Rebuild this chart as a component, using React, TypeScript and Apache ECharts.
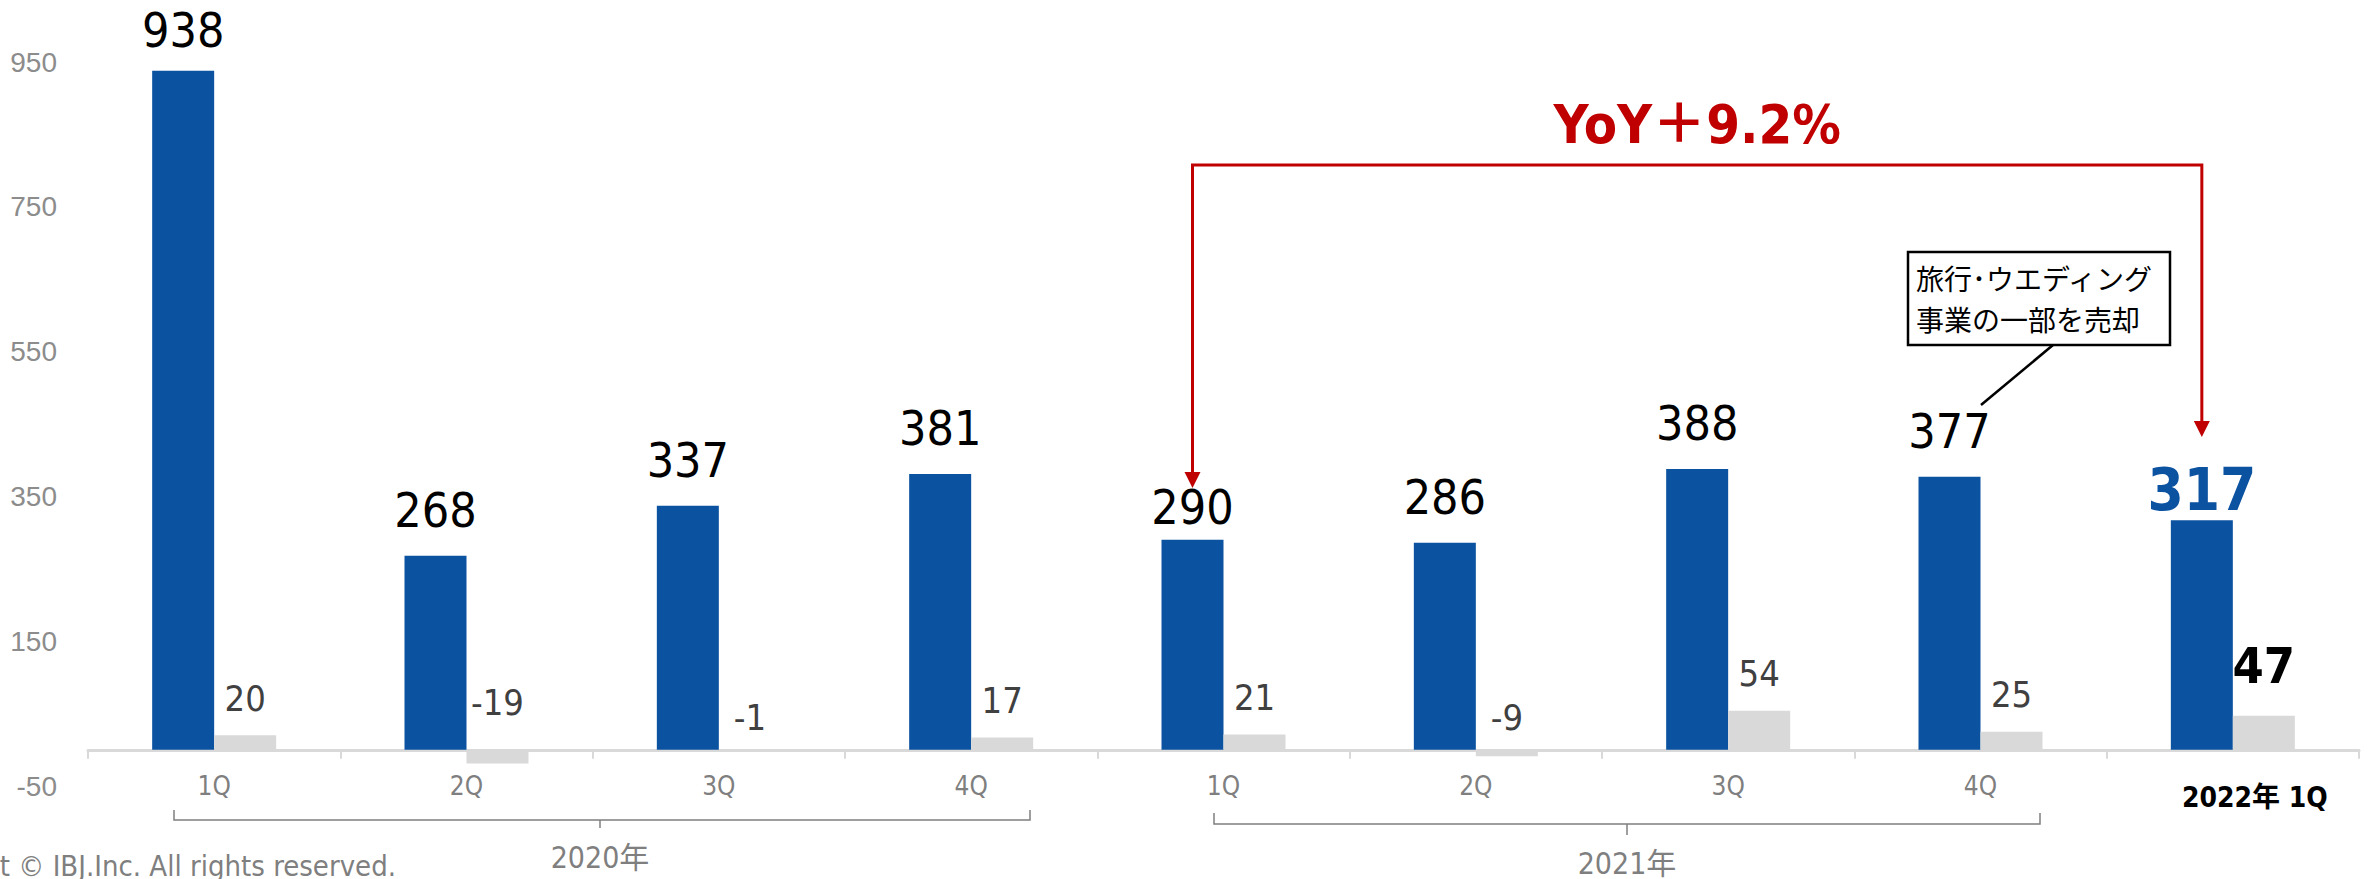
import React, { useEffect, useRef } from 'react';
import * as echarts from 'echarts';

// ---------- data ----------
const categories = ['1Q', '2Q', '3Q', '4Q', '1Q', '2Q', '3Q', '4Q', '2022年 1Q'];
const salesValues = [938, 268, 337, 381, 290, 286, 388, 377, 317];
const profitValues = [20, -19, -1, 17, 21, -9, 54, 25, 47];
const yMin = -50;
const yMax = 950;
const yInterval = 200;
const yearLabels = ['2020年', '2021年'];
const yoyText = 'YoY＋9.2%';
const noteLines = ['旅行･ウエディング', '事業の一部を売却'];
const copyrightText = 'Copyright © IBJ.Inc. All rights reserved.';
const highlightIndex = 8; // 2022年 1Q
const yoyBaseIndex = 4; // 2021 1Q

// ---------- styles ----------
const BLUE = '#0b52a0';
const GREY_BAR = '#d9d9d9';
const RED = '#c00000';
const AXIS_GREY = '#7f7f7f';
const NARROW = "'Liberation Sans Narrow', 'DejaVu Sans Condensed', 'Noto Sans CJK JP', sans-serif";
const CJK = "'Noto Sans CJK JP', sans-serif";
const BAR_W = 62;

export default function App() {
  const ref = useRef<HTMLDivElement>(null);

  useEffect(() => {
    const chart = echarts.init(ref.current!, null, { renderer: 'svg' });

    const salesData = salesValues.map((v, i) => {
      const item: any = { value: v };
      if (i === highlightIndex) {
        item.label = { color: BLUE, fontWeight: 'bold', fontSize: 58, lineHeight: 52, distance: 4 };
      } else if (i === yoyBaseIndex) {
        item.label = { distance: 12 };
      } else if (v === Math.max(...salesValues)) {
        item.label = { distance: 20 };
      }
      return item;
    });

    const profitData = profitValues.map((v, i) => {
      const item: any = { value: v };
      if (i === highlightIndex) {
        item.label = { color: '#000', fontWeight: 'bold', fontSize: 50, lineHeight: 44, distance: 28 };
      } else if (v < 0) {
        item.label = { distance: v < -10 ? 30 : 15 };
      }
      return item;
    });

    chart.setOption({
      animation: false,
      grid: { left: 88, right: 12, top: 62, bottom: 93, containLabel: false },
      xAxis: {
        type: 'category',
        data: categories,
        axisLine: { onZero: true, lineStyle: { color: GREY_BAR, width: 3 } },
        axisTick: { show: true, interval: 0, length: 9, lineStyle: { color: GREY_BAR, width: 2 } },
        axisLabel: {
          interval: 0,
          margin: -13,
          fontSize: 26,
          lineHeight: 26,
          color: AXIS_GREY,
          fontFamily: NARROW,
          formatter: (val: string, idx: number) => (idx === highlightIndex ? `{b|${val}}` : val),
          rich: {
            b: {
              fontSize: 28,
              lineHeight: 28,
              fontWeight: 'bold',
              color: '#000',
              fontFamily: NARROW,
              padding: [20, 0, 0, 44],
            },
          },
        },
        splitLine: { show: false },
      },
      yAxis: {
        type: 'value',
        min: yMin,
        max: yMax,
        interval: yInterval,
        splitLine: { show: false },
        axisLine: { show: false },
        axisTick: { show: false },
        axisLabel: { color: '#8c8c8c', fontSize: 28, fontFamily: "'Liberation Sans', sans-serif", margin: 31 },
      },
      series: [
        {
          type: 'bar',
          data: salesData,
          barWidth: BAR_W,
          barGap: '0%',
          itemStyle: { color: BLUE },
          label: { show: true, position: 'top', distance: 25, fontSize: 48, lineHeight: 42, color: '#000', fontFamily: NARROW },
        },
        {
          type: 'bar',
          data: profitData,
          barWidth: BAR_W,
          barGap: '0%',
          itemStyle: { color: GREY_BAR },
          label: { show: true, position: 'top', distance: 20, fontSize: 36, lineHeight: 34, color: '#404040', fontFamily: NARROW },
        },
      ],
    });

    const toPx = (i: number, v: number) =>
      chart.convertToPixel({ xAxisIndex: 0, yAxisIndex: 0 }, [i, v]) as number[];

    const baseX = toPx(yoyBaseIndex, 0)[0] - BAR_W / 2;
    const hiX = toPx(highlightIndex, 0)[0] - BAR_W / 2;
    const lineY = 165;
    const leftTip = 488;
    const rightTip = 437;
    const head = 16;

    const bracket = (x1: number, x2: number, xm: number, yTop: number, yBar: number, yMid: number) => [
      {
        type: 'polyline',
        shape: { points: [[x1, yTop], [x1, yBar], [x2, yBar], [x2, yTop]] },
        style: { stroke: AXIS_GREY, lineWidth: 1.5, fill: null },
      },
      {
        type: 'line',
        shape: { x1: xm, y1: yBar, x2: xm, y2: yMid },
        style: { stroke: AXIS_GREY, lineWidth: 1.5 },
      },
    ];

    chart.setOption({
      graphic: [
        // YoY connector
        {
          type: 'polyline',
          shape: {
            points: [
              [baseX, leftTip - head + 2],
              [baseX, lineY],
              [hiX, lineY],
              [hiX, rightTip - head + 2],
            ],
          },
          style: { stroke: RED, lineWidth: 3, fill: null },
        },
        {
          type: 'polygon',
          shape: { points: [[baseX - 8, leftTip - head], [baseX + 8, leftTip - head], [baseX, leftTip]] },
          style: { fill: RED },
        },
        {
          type: 'polygon',
          shape: { points: [[hiX - 8, rightTip - head], [hiX + 8, rightTip - head], [hiX, rightTip]] },
          style: { fill: RED },
        },
        {
          type: 'text',
          x: (baseX + hiX) / 2,
          y: 124,
          style: {
            text: yoyText,
            fill: RED,
            fontSize: 54,
            lineHeight: 54,
            fontWeight: 'bold',
            fontFamily: NARROW,
            align: 'center',
            verticalAlign: 'middle',
          },
        },
        // callout
        {
          type: 'line',
          shape: { x1: 2053, y1: 345, x2: 1981, y2: 405 },
          style: { stroke: '#000', lineWidth: 2.5 },
        },
        {
          type: 'rect',
          shape: { x: 1908, y: 252, width: 262, height: 93 },
          style: { fill: '#fff', stroke: '#000', lineWidth: 2.5 },
        },
        {
          type: 'text',
          x: 1916,
          y: 278,
          style: { text: noteLines[0], fill: '#000', fontSize: 28, lineHeight: 30, fontFamily: CJK, align: 'left', verticalAlign: 'middle' },
        },
        {
          type: 'text',
          x: 1916,
          y: 319,
          style: { text: noteLines[1], fill: '#000', fontSize: 28, lineHeight: 30, fontFamily: CJK, align: 'left', verticalAlign: 'middle' },
        },
        // year brackets
        ...bracket(174, 1030, 600, 810, 820, 828),
        ...bracket(1214, 2040, 1627, 813, 824, 835),
        {
          type: 'text',
          x: 600,
          y: 857,
          style: { text: yearLabels[0], fill: AXIS_GREY, fontSize: 30, lineHeight: 30, fontFamily: NARROW, align: 'center', verticalAlign: 'middle' },
        },
        {
          type: 'text',
          x: 1627,
          y: 863,
          style: { text: yearLabels[1], fill: AXIS_GREY, fontSize: 30, lineHeight: 30, fontFamily: NARROW, align: 'center', verticalAlign: 'middle' },
        },
        // copyright
        {
          type: 'text',
          x: 396,
          y: 866,
          style: { text: copyrightText, fill: AXIS_GREY, fontSize: 29, lineHeight: 26, fontFamily: NARROW, align: 'right', verticalAlign: 'middle' },
        },
      ],
    });

    return () => chart.dispose();
  }, []);

  return (
    <div
      ref={ref}
      style={{ position: 'fixed', left: 0, top: 0, width: 2371, height: 879, background: '#fff' }}
    />
  );
}
